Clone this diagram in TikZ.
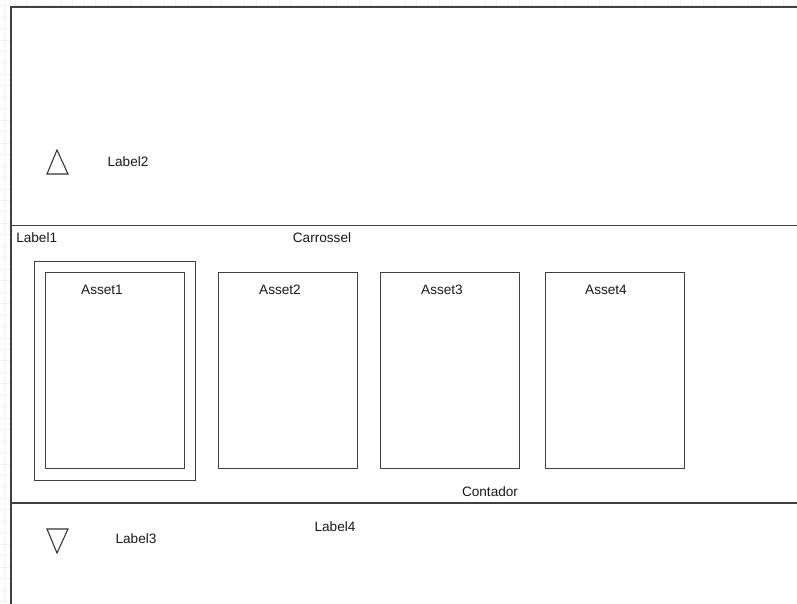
\documentclass[tikz,border=0pt]{standalone}
\usepackage{fontspec}
\setmainfont{Liberation Sans}
\usetikzlibrary{positioning}

\begin{document}
\begin{tikzpicture}[x=0.75pt,y=-0.75pt]
\tikzset{
  grade/.style={black!5,line width=0.5pt},
  moldura/.style={draw=black!75,line width=1.1pt},
  cartao/.style={draw=black!75,line width=1.1pt,fill=white,inner sep=0pt,anchor=north west,
    minimum width=104.25pt,minimum height=147pt},
  selecao/.style={draw=black!75,line width=1.1pt,inner sep=0pt,anchor=north west,
    minimum width=120.75pt,minimum height=164.25pt},
  rotulo/.style={font=\fontsize{10.2}{12}\selectfont,inner sep=0pt,text=black!90},
  seta/.style={draw=black!80,line width=0.8pt,line join=miter}
}
\useasboundingbox (0,0) rectangle (797,604);
\clip (0,0) rectangle (797,604);
% grade de fundo
\foreach \i in {0,...,70}
  \draw[grade] ({3.9+11.46*\i},0) -- ++(0,604);
\foreach \j in {0,...,53}
  \draw[grade] (0,{5.5+11.46*\j}) -- ++(797,0);
% painel e faixas
\fill[white] (11,7) rectangle (810,620);
\draw[moldura] (11,620) -- (11,7) -- (810,7);
\draw[moldura] (11,225.5) -- (810,225.5);
\draw[moldura] (11,503) -- (810,503);
% faixa de cima
\draw[seta] (57,150) -- (68,174) -- (47,174) -- cycle;
\node[rotulo] (label2) at (128,162) {Label2};
% carrossel
\node[rotulo,anchor=west] (label1) at (16,238) {Label1};
\node[rotulo] (carrossel) at (322,238) {Carrossel};
\node[selecao] (sel) at (34,261) {};
\node[cartao] (a1) at (45,272) {};
\node[cartao] (a2) at (218,272) {};
\node[cartao] (a3) at (380,272) {};
\node[cartao] (a4) at (545,272) {};
\node[rotulo] (t1) at (102,290) {Asset1};
\node[rotulo] (t2) at (280,290) {Asset2};
\node[rotulo] (t3) at (442,290) {Asset3};
\node[rotulo] (t4) at (606,290) {Asset4};
\node[rotulo] (contador) at (490,492) {Contador};
% faixa de baixo
\draw[seta] (47,529) -- (68,529) -- (57,553) -- cycle;
\node[rotulo] (label3) at (136,539) {Label3};
\node[rotulo] (label4) at (335,527) {Label4};
\end{tikzpicture}
\end{document}
